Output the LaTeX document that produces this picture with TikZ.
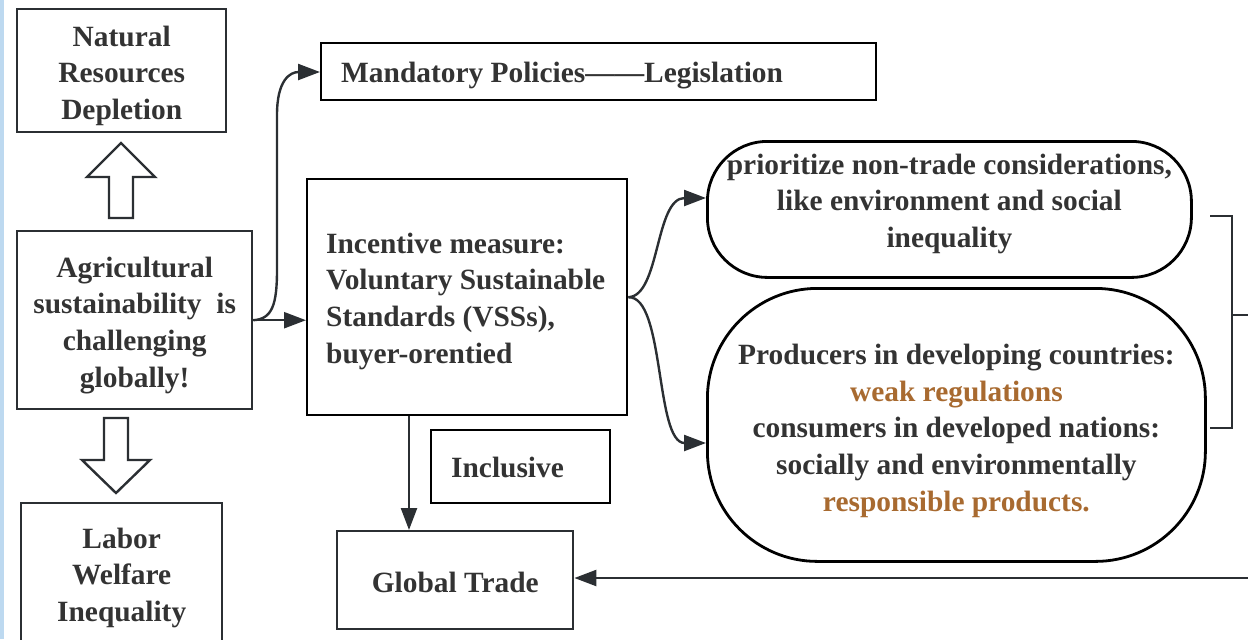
\documentclass[tikz,border=0pt]{standalone}
\usepackage{fontspec}
\setmainfont{Liberation Serif}
\usepackage{tikz}
\usetikzlibrary{arrows.meta, positioning, calc}
\usepackage{xcolor}
\definecolor{linec}{HTML}{2B2F33}
\definecolor{txtc}{HTML}{333333}
\definecolor{brownc}{HTML}{A86A30}
\definecolor{stripc}{HTML}{BDD9F0}
\newcommand{\hl}[1]{\textcolor{brownc}{#1}}

\begin{document}
\begin{tikzpicture}[x=0.5pt, y=-0.5pt,
  every node/.style={font=\bfseries\fontsize{14.7}{18.3}\selectfont, text=txtc},
  % struts above the first and below the last line set where the text sits
  pad/.style 2 args={execute at begin node={\rule{0pt}{#1}},
    execute at end node={\rule[-#2]{0pt}{#2}}},
  box/.style={draw=linec, line width=1.2pt, inner sep=0pt, align=flush center,
    text width=#1, anchor=north west, pad={16pt}{4pt}},
  lbox/.style={draw=black, line width=1.2pt, inner sep=0pt, inner xsep=10pt,
    align=flush left, text width=#1, anchor=north west},
  roundbox/.style={box=#1, draw=black, line width=1.4pt},
  arr/.style={draw=linec, line width=1.2pt, -{Triangle[length=11pt,width=8pt]}},
  hollow/.style={draw=linec, line width=1.2pt, fill=white, line join=miter}]
  \useasboundingbox (0,0) rectangle (1248,639);
  \fill[stripc] (0,0) rectangle (4,639);

  % left column
  \node[box=104.5pt, minimum height=61.5pt] (natres) at (16,8)
    {Natural\\Resources\\Depletion};
  \node[box=117.5pt, minimum height=89pt, pad={16pt}{4pt}] (agri) at (16,230)
    {Agricultural\\sustainability\ \ is\\challenging\\globally!};
  \node[box=100.5pt, minimum height=69.5pt] (labor) at (20,502)
    {Labor\\Welfare\\Inequality};
  \draw[hollow] (121,143) -- (155,177) -- (133,177) -- (133,218) -- (109,218)
    -- (109,177) -- (87,177) -- cycle;
  \draw[hollow] (104,418) -- (128,418) -- (128,460) -- (150,460) -- (116,493)
    -- (82,460) -- (104,460) -- cycle;

  % policies
  \node[lbox=257.5pt, minimum height=28.5pt, pad={15pt}{4.5pt}] (mand) at (320,42)
    {Mandatory Policies——Legislation};
  \node[lbox=141pt, inner xsep=9.5pt, minimum height=118pt, pad={15pt}{4pt}] (vss) at (306,178)
    {Incentive measure:\\Voluntary Sustainable\\Standards (VSSs),\\buyer-orentied};
  \node[lbox=69.5pt, minimum height=36.5pt, pad={15pt}{4pt}] (incl) at (430,429)
    {Inclusive};
  \node[box=118pt, minimum height=49pt, pad={13pt}{4pt}] (trade) at (336,530)
    {Global Trade};

  % considerations
  \node[roundbox=242pt, rounded corners=30pt, minimum height=68pt, pad={11pt}{14.5pt}] (prio) at (706,140)
    {prioritize non-trade considerations,\\like environment and social\\inequality};
  \node[roundbox=249pt, rounded corners=55pt, minimum height=136.5pt, pad={17pt}{4pt}] (prod) at (706,287)
    {Producers in developing countries:\\\hl{weak regulations}\\consumers in developed nations:\\socially and environmentally\\\hl{responsible products.}};

  % connectors
  \draw[arr] (agri.east) .. controls (272,319) and (277,305) .. (277,270)
    -- (277,115) .. controls (277,80) and (290,72) .. (mand.west |- 0,72);
  \draw[arr] (agri.east) -- (vss.west |- agri.east);
  \draw[arr] (vss.east) .. controls (660,296) and (655,198) .. (prio.west |- 0,198);
  \draw[arr] (vss.east) .. controls (665,296) and (655,443) .. (prod.west |- 0,443);
  \draw[arr] (vss.south -| 409,0) -- (trade.north -| 409,0);

  % bracket and feedback line
  \coordinate (brk) at (1232,315);
  \coordinate (feed) at (1248,578);
  \draw[linec, line width=1.2pt] (1210,216) -| (1232,428) -- (1210,428);
  \draw[linec, line width=1.2pt] (brk) -- (1248,315);
  \draw[arr] (feed) -- (trade.east |- feed);
\end{tikzpicture}
\end{document}
